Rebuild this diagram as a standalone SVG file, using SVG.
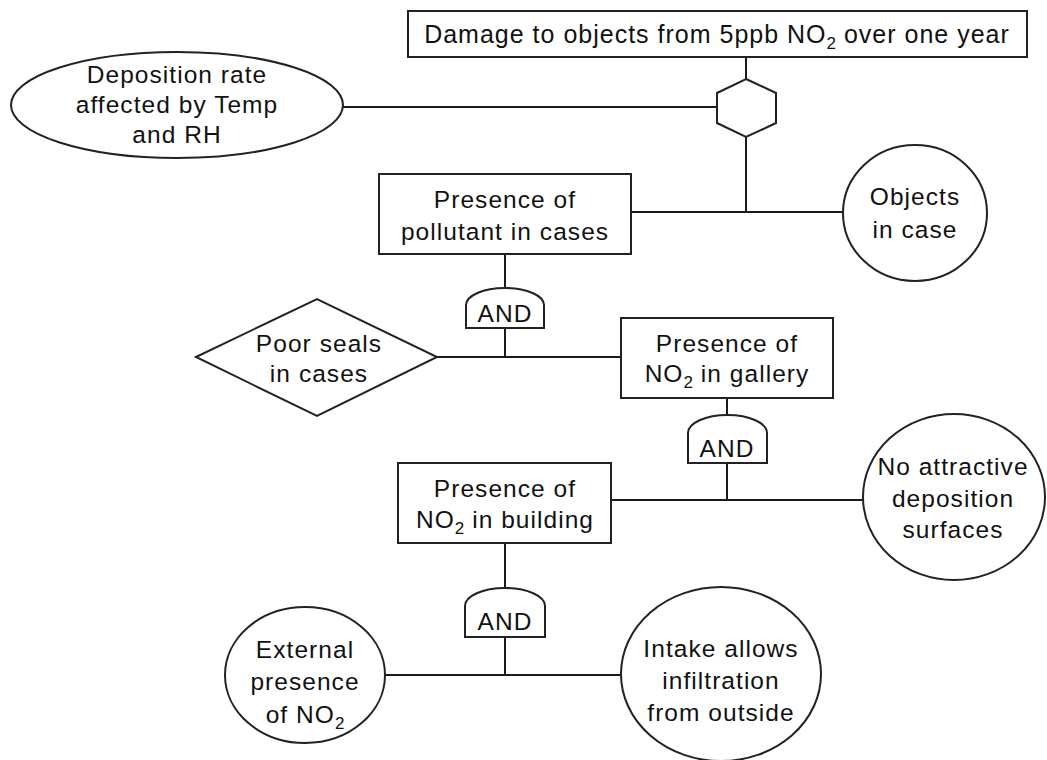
<svg xmlns="http://www.w3.org/2000/svg" width="1047" height="760" viewBox="0 0 1047 760">
<style>
.s{fill:#fff;stroke:#222;stroke-width:2}
.c line{stroke:#1a1a1a;stroke-width:2}
text{font-family:"Liberation Sans",Arial,sans-serif;font-size:24.5px;letter-spacing:1.05px;fill:#111;text-anchor:middle}
.t{font-size:25px;letter-spacing:1px}
.sub{font-size:17px;letter-spacing:0}
</style>
<g class="c" id="connectors">
<line x1="746" y1="57" x2="746" y2="79"/>
<line x1="343" y1="107" x2="717" y2="107"/>
<line x1="746" y1="137" x2="746" y2="212"/>
<line x1="631" y1="212" x2="843" y2="212"/>
<line x1="505" y1="254" x2="505" y2="288"/>
<line x1="505" y1="328" x2="505" y2="357"/>
<line x1="437" y1="357" x2="621" y2="357"/>
<line x1="727" y1="398" x2="727" y2="415"/>
<line x1="727" y1="463" x2="727" y2="500"/>
<line x1="611" y1="500" x2="863" y2="500"/>
<line x1="505" y1="543" x2="505" y2="588"/>
<line x1="505" y1="637" x2="505" y2="675"/>
<line x1="385" y1="675" x2="621" y2="675"/>
</g>
<g id="top">
<rect class="s" x="408" y="11" width="619" height="46"/>
<text class="t" x="717" y="43">Damage to objects from 5ppb NO<tspan class="sub" dy="6">2</tspan><tspan dy="-6"> over one year</tspan></text>
</g>
<g id="hexgate">
<polygon class="s" points="746,79 776,93 776,123 746,137 717,123 717,93"/>
</g>
<g id="deposition">
<ellipse class="s" cx="177" cy="105" rx="166" ry="53"/>
<text x="177" y="83">Deposition rate</text>
<text x="177" y="113">affected by Temp</text>
<text x="177" y="143">and RH</text>
</g>
<g id="pollutant">
<rect class="s" x="379" y="174" width="252" height="80"/>
<text x="505" y="208">Presence of</text>
<text x="505" y="240">pollutant in cases</text>
</g>
<g id="objects">
<ellipse class="s" cx="915" cy="213" rx="72" ry="68"/>
<text x="915" y="205">Objects</text>
<text x="915" y="238">in case</text>
</g>
<g id="and1">
<path class="s" d="M466,328 V305 A39,17 0 0 1 544,305 V328 Z"/>
<text x="505" y="322">AND</text>
</g>
<g id="seals">
<polygon class="s" points="196,357 317,299 437,357 317,416"/>
<text x="319" y="352">Poor seals</text>
<text x="319" y="382">in cases</text>
</g>
<g id="gallery">
<rect class="s" x="621" y="318" width="212" height="80"/>
<text x="727" y="352">Presence of</text>
<text x="727" y="382">NO<tspan class="sub" dy="6">2</tspan><tspan dy="-6"> in gallery</tspan></text>
</g>
<g id="and2">
<path class="s" d="M688,463 V433 A39.5,18 0 0 1 767,433 V463 Z"/>
<text x="727" y="457">AND</text>
</g>
<g id="building">
<rect class="s" x="398" y="463" width="213" height="80"/>
<text x="505" y="497">Presence of</text>
<text x="505" y="528">NO<tspan class="sub" dy="6">2</tspan><tspan dy="-6"> in building</tspan></text>
</g>
<g id="surfaces">
<ellipse class="s" cx="954" cy="497" rx="91" ry="83"/>
<text x="953" y="475">No attractive</text>
<text x="953" y="507">deposition</text>
<text x="953" y="538">surfaces</text>
</g>
<g id="and3">
<path class="s" d="M465,637 V606 A40,18 0 0 1 545,606 V637 Z"/>
<text x="505" y="630">AND</text>
</g>
<g id="external">
<ellipse class="s" cx="305" cy="675" rx="80" ry="68"/>
<text x="305" y="658">External</text>
<text x="305" y="690">presence</text>
<text x="305" y="723">of NO<tspan class="sub" dy="6">2</tspan></text>
</g>
<g id="intake">
<ellipse class="s" cx="721" cy="674" rx="100" ry="87"/>
<text x="721" y="657">Intake allows</text>
<text x="721" y="689">infiltration</text>
<text x="721" y="721">from outside</text>
</g>
</svg>
